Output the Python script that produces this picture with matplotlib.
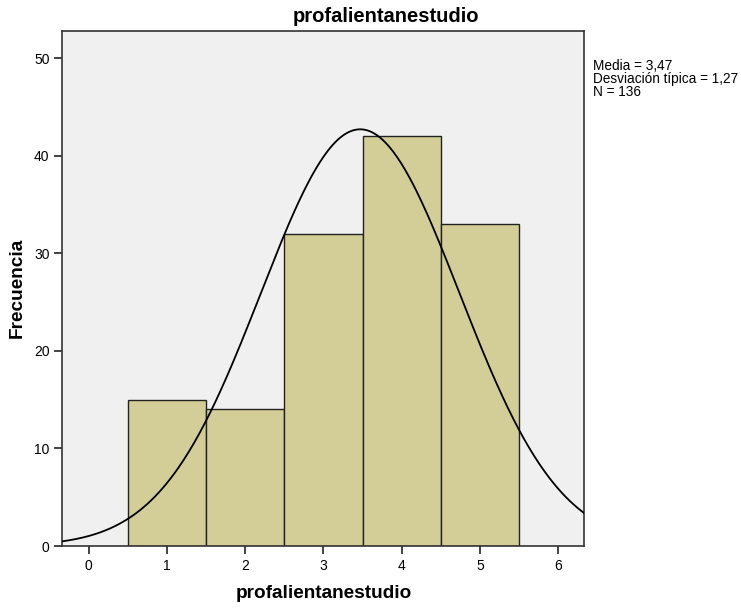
import numpy as np
import matplotlib
matplotlib.use("Agg")
import matplotlib.pyplot as plt

plt.rcParams['font.family'] = ['Liberation Sans', 'DejaVu Sans']

categories = [1, 2, 3, 4, 5]
counts = [15, 14, 32, 42, 33]
mean_val = 3.47
sd_val = 1.27
n_val = 136
xticks = [0, 1, 2, 3, 4, 5, 6]
yticks = [0, 10, 20, 30, 40, 50]

W, H = 741, 609
fig = plt.figure(figsize=(W/100, H/100), dpi=100)
ax = fig.add_axes([62/W, 63/H, (584-62)/W, (546-31)/H])
ax.set_facecolor('#F0F0F0')

ax.bar(categories, counts, width=1.0, color='#D3CE97', edgecolor='#222222', linewidth=1.0, zorder=2)

xs = np.linspace(-0.34, 6.33, 400)
ys = n_val * 1.0 / (sd_val * np.sqrt(2*np.pi)) * np.exp(-0.5*((xs-mean_val)/sd_val)**2)
ax.plot(xs, ys, color='black', linewidth=1.3, zorder=3)

ax.set_xlim(-0.34, 6.33)
ax.set_ylim(0, 52.8)
ax.set_xticks(xticks)
ax.set_yticks(yticks)
ax.tick_params(axis='both', labelsize=10, direction='out', length=5.5, width=1.2, color='#222222')
for s in ['top', 'right', 'left', 'bottom']:
    ax.spines[s].set_linewidth(1.2)
    ax.spines[s].set_color('#333333')

fig.text(386/W, 1 - 16/H, 'profalientanestudio', fontsize=14.5, fontweight='bold',
         ha='center', va='center')
fig.text(323.5/W, 1 - 593/H, 'profalientanestudio', fontsize=13.7, fontweight='bold',
         ha='center', va='center')
fig.text(17/W, 1 - 288/H, 'Frecuencia', fontsize=13.7, fontweight='bold',
         ha='center', va='center', rotation=90)

fig.text(593/W, 1 - 79/H, 'Media = 3,47\nDesviación típica = 1,27\nN = 136',
         fontsize=9.8, va='center', ha='left', linespacing=0.9)

fig.savefig('out.png', dpi=100, facecolor='white')
